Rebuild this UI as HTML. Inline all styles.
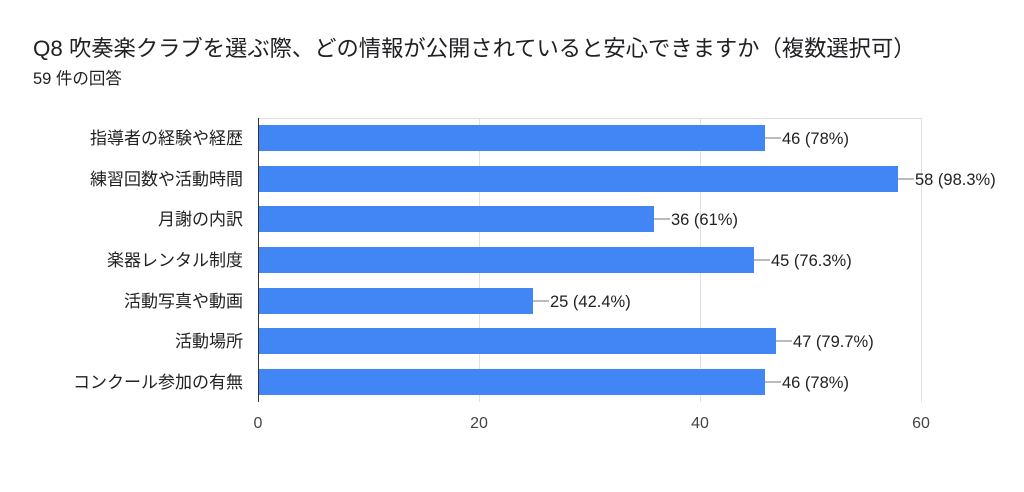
<!DOCTYPE html>
<html><head><meta charset="utf-8"><style>
body{margin:0;background:#fff;width:1024px;height:487px;overflow:hidden;font-family:"Liberation Sans","Noto Sans CJK JP",sans-serif;}
</style></head><body>
<svg width="1024" height="487" xmlns="http://www.w3.org/2000/svg" font-family="Liberation Sans, Noto Sans CJK JP, sans-serif">
<text x="33" y="56" font-size="22.3" fill="#202124">Q8 吹奏楽クラブを選ぶ際、どの情報が公開されていると安心できますか（複数選択可）</text>
<text x="33" y="84" font-size="16.5" fill="#202124">59 件の回答</text>
<g stroke="#e0e0e0" stroke-width="1">
<line x1="479.5" y1="118" x2="479.5" y2="402"/>
<line x1="700.5" y1="118" x2="700.5" y2="402"/>
<line x1="921.5" y1="118" x2="921.5" y2="402"/>
<line x1="258" y1="118.5" x2="921" y2="118.5"/>
</g>
<line x1="258.5" y1="118" x2="258.5" y2="402" stroke="#333" stroke-width="1"/>
<g fill="#4285f4">
<rect x="259" y="125" width="506" height="26"/>
<rect x="259" y="166" width="639" height="26"/>
<rect x="259" y="206" width="395" height="26"/>
<rect x="259" y="247" width="495" height="26"/>
<rect x="259" y="288" width="274" height="26"/>
<rect x="259" y="328" width="517" height="26"/>
<rect x="259" y="369" width="506" height="26"/>
</g>
<g stroke="#777" stroke-width="1">
<line x1="765" y1="138" x2="781" y2="138"/>
<line x1="898" y1="179" x2="914" y2="179"/>
<line x1="654" y1="219" x2="670" y2="219"/>
<line x1="754" y1="260" x2="770" y2="260"/>
<line x1="533" y1="301" x2="549" y2="301"/>
<line x1="776" y1="341" x2="792" y2="341"/>
<line x1="765" y1="382" x2="781" y2="382"/>
</g>
<g font-size="16.5" fill="#222">
<text x="782" y="144">46 (78%)</text>
<text x="915" y="185">58 (98.3%)</text>
<text x="671" y="225">36 (61%)</text>
<text x="771" y="266">45 (76.3%)</text>
<text x="550" y="307">25 (42.4%)</text>
<text x="793" y="347">47 (79.7%)</text>
<text x="782" y="388">46 (78%)</text>
</g>
<g font-size="17" fill="#222" text-anchor="end">
<text x="243" y="144">指導者の経験や経歴</text>
<text x="243" y="185">練習回数や活動時間</text>
<text x="243" y="225">月謝の内訳</text>
<text x="243" y="266">楽器レンタル制度</text>
<text x="243" y="307">活動写真や動画</text>
<text x="243" y="347">活動場所</text>
<text x="243" y="388">コンクール参加の有無</text>
</g>
<g font-size="16" fill="#444" text-anchor="middle">
<text x="258" y="428">0</text>
<text x="479" y="428">20</text>
<text x="700" y="428">40</text>
<text x="921" y="428">60</text>
</g>
</svg>
</body></html>
